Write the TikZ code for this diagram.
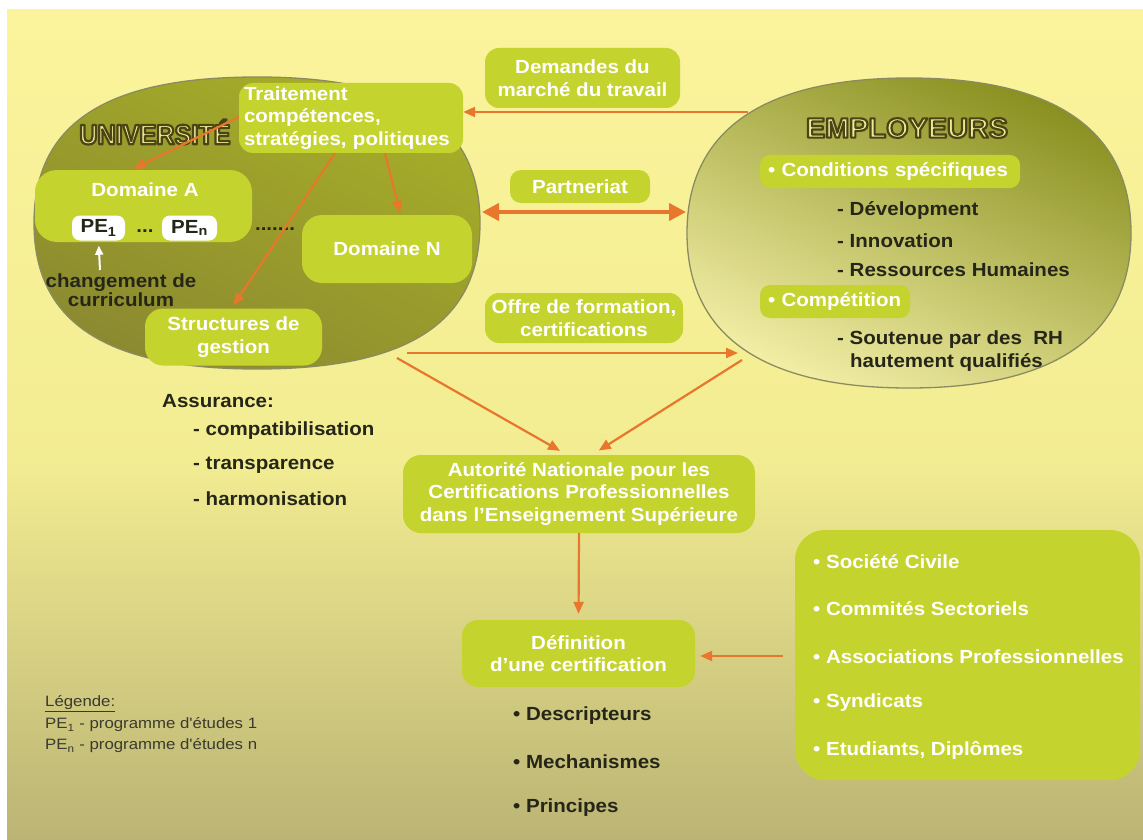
\documentclass[tikz,border=0pt]{standalone}
\usepackage{fontspec}
\setmainfont{Liberation Sans}[FakeStretch=1.08]
\newfontfamily\titlefont{Liberation Sans}[FakeStretch=1.03]
\newfontfamily\unifont{Liberation Sans}[FakeStretch=0.9]
\newfontfamily\legfont{Liberation Sans}[FakeStretch=1.12]
\usetikzlibrary{arrows.meta,calc}

\definecolor{bgtop}{HTML}{FBF49C}
\definecolor{bgmid}{HTML}{F2EC92}
\definecolor{bgbot}{HTML}{BBB474}
\definecolor{boxgreen}{HTML}{C5D32E}
\definecolor{arrorange}{HTML}{E8762C}
\definecolor{darktxt}{HTML}{262618}
\definecolor{legtxt}{HTML}{3A3A2E}
\definecolor{blobedge}{HTML}{8A8C60}
\definecolor{titlefill}{HTML}{F0EA98}
\definecolor{unitop}{HTML}{A6AE28}
\definecolor{unimid}{HTML}{BEBE3C}
\definecolor{unibot}{HTML}{8C8A30}
\definecolor{emptop}{HTML}{8A9020}
\definecolor{empmid}{HTML}{B6B63A}
\definecolor{empbot}{HTML}{F2EEA6}

\newcommand\dgbody{\fontsize{19}{22.5}\selectfont\bfseries}
\newcommand\dglegend{\legfont\fontsize{15}{20}\selectfont}
\newcommand\dgtitle{\titlefont\fontsize{28}{30}\selectfont\bfseries}
\newcommand\dguni{\unifont\fontsize{28}{30}\selectfont\bfseries}
% outlined headings: pale fill, dark stroke around each letter
\newcommand\dgoutline[1]{\special{pdf:code 0.294 0.271 0.082 RG 2.2 w 1 j 2 Tr}#1\special{pdf:code 0 Tr}}

\begin{document}
\begin{tikzpicture}[x=1pt,y=-1pt,
  gbox/.style={fill=boxgreen, rounded corners=14pt, inner sep=0pt, text=white, font=\dgbody, align=center},
  petag/.style={fill=white, rounded corners=8pt, inner sep=0pt, minimum height=25pt, text=darktxt, font=\dgbody},
  dtext/.style={text=darktxt, font=\dgbody, inner sep=0pt, anchor=west},
  wtext/.style={text=white, font=\dgbody, inner sep=0pt, anchor=west},
  legtext/.style={text=legtxt, font=\dglegend, inner sep=0pt, anchor=west},
  heading/.style={text=titlefill, inner sep=0pt},
  arr/.style={draw=arrorange, line width=2.2pt, -{Triangle[length=12pt,width=10pt]}},
  bigarr/.style={draw=arrorange, line width=4pt, {Triangle[length=17pt,width=17pt]}-{Triangle[length=17pt,width=17pt]}},
  whitearr/.style={draw=white, line width=2pt, -{Triangle[length=9pt,width=8pt]}},
  blob/.style={draw=blobedge, line width=1.3pt},
]
\useasboundingbox (0,0) rectangle (1143,840);
\fill[white] (0,0) rectangle (1143,840);
\shade[top color=bgtop, bottom color=bgmid] (7,10) rectangle (1143,461);
\shade[top color=bgmid, bottom color=bgbot] (7,460) rectangle (1143,840);

% the two actors
\shade[blob, top color=unitop, middle color=unimid, bottom color=unibot, shading angle=-25]
  (480,223) .. controls (480,322.3) and (408.6,369) .. (257,369)
  .. controls (105.4,369) and (34,322.3) .. (34,223)
  .. controls (34,123.7) and (105.4,77) .. (257,77)
  .. controls (408.6,77) and (480,123.7) .. (480,223) -- cycle;
\shade[blob, top color=emptop, middle color=empmid, bottom color=empbot, shading angle=-25]
  (1131,233) .. controls (1131,335.3) and (1055.5,388) .. (909,388)
  .. controls (762.5,388) and (687,335.3) .. (687,233)
  .. controls (687,130.7) and (762.5,78) .. (909,78)
  .. controls (1055.5,78) and (1131,130.7) .. (1131,233) -- cycle;

% boundary points used by the connectors
\coordinate (empA) at (748,112);
\coordinate (uniE) at (482,212);
\coordinate (empW) at (686,212);
\coordinate (uniS) at (407,353);
\coordinate (empS) at (738,353);
\coordinate (uniB) at (397,358);
\coordinate (empB) at (742,360);
\coordinate (rboxOut) at (783,656);
\coordinate (curtop) at (100,270);

% university side
\node[heading, font=\dguni] (unititle) at (155,132) {\dgoutline{UNIVERSITÉ}};
\node[gbox, minimum width=224pt, minimum height=70pt, text width=214pt, align=left] (trait) at (351,118)
  {Traitement\\compétences,\\stratégies, politiques};
\node[gbox, minimum width=217pt, minimum height=72pt, rounded corners=22pt] (domA) at (143.5,206) {};
\node[text=white, font=\dgbody, inner sep=0pt] (domAlabel) at (145,190) {Domaine A};
\node[petag, minimum width=53pt] (pe1) at (98.5,228) {PE\textsubscript{1}};
\node[petag, minimum width=55pt] (pen) at (189.5,228) {PE\textsubscript{n}};
\node[text=darktxt, font=\dgbody, inner sep=0pt] (dotsA) at (145,231) {...};
\node[text=darktxt, font=\dgbody, inner sep=0pt] (dotsB) at (275,229) {.......};
\node[gbox, minimum width=170pt, minimum height=68pt, rounded corners=20pt] (domN) at (387,249) {Domaine N};
\node[gbox, minimum width=177pt, minimum height=57pt, rounded corners=18pt] (struct) at (233.5,337) {Structures de\\gestion};
\node[text=darktxt, font={\fontsize{19}{19}\selectfont\bfseries}, align=center, inner sep=0pt] (curric) at (121,290)
  {changement de\\curriculum};

% employers side
\node[heading, font=\dgtitle] (emptitle) at (907,128) {\dgoutline{EMPLOYEURS}};
\node[gbox, minimum width=260pt, minimum height=33pt, text width=244pt, align=left, rounded corners=10pt] (cond) at (890,171.5)
  {\textbullet\ Conditions spécifiques};
\node[dtext] (dev) at (837,211) {- Dévelopment};
\node[dtext] (innov) at (837,241) {- Innovation};
\node[dtext] (rh) at (837,270) {- Ressources Humaines};
\node[gbox, minimum width=150pt, minimum height=33pt, text width=134pt, align=left, rounded corners=10pt] (comp) at (835,301.5)
  {\textbullet\ Compétition};
\node[dtext] (sout) at (837,340) {- Soutenue par des\ \ RH};
\node[dtext] (haut) at (850,363) {hautement qualifiés};

% exchanges between the two
\node[gbox, minimum width=195pt, minimum height=60pt] (dem) at (582.5,78) {Demandes du\\marché du travail};
\node[gbox, minimum width=140pt, minimum height=33pt, rounded corners=11pt] (part) at (580,186.5) {Partneriat};
\node[gbox, minimum width=198pt, minimum height=50pt] (offre) at (584,318) {Offre de formation,\\certifications};

% assurance list
\node[dtext] (assur) at (162,401) {Assurance:};
\node[dtext] (assur1) at (193,431) {- compatibilisation};
\node[dtext] (assur2) at (193,465) {- transparence};
\node[dtext] (assur3) at (193,499) {- harmonisation};

% national authority and certification
\node[gbox, minimum width=352pt, minimum height=78pt, rounded corners=18pt] (aut) at (579,494)
  {Autorité Nationale pour les\\Certifications Professionnelles\\dans l’Enseignement Supérieure};
\node[gbox, minimum width=233pt, minimum height=67pt, rounded corners=16pt] (def) at (578.5,653.5)
  {Définition\\d'une certification};
\node[dtext] (desc) at (513,716) {\textbullet\ Descripteurs};
\node[dtext] (mech) at (513,762) {\textbullet\ Mechanismes};
\node[dtext] (princ) at (513,808) {\textbullet\ Principes};

% stakeholders
\node[gbox, minimum width=345pt, minimum height=250pt, rounded corners=30pt] (rbox) at (967.5,655) {};
\node[wtext] (civ) at (813,562) {\textbullet\ Société Civile};
\node[wtext] (sect) at (813,609) {\textbullet\ Commités Sectoriels};
\node[wtext] (assoc) at (813,657) {\textbullet\ Associations Professionnelles};
\node[wtext] (synd) at (813,703) {\textbullet\ Syndicats};
\node[wtext] (etud) at (813,750) {\textbullet\ Etudiants, Diplômes};

% legend
\node[legtext] (leg) at (45,704) {\underline{Légende:}};
\node[legtext] (leg1) at (45,725) {PE\textsubscript{1} - programme d'études 1};
\node[legtext] (legn) at (45,746) {PE\textsubscript{n} - programme d'études n};

% connectors
\draw[arr] (empA) -- (trait.east |- empA);
\draw[arr] ($(trait.west)+(0,-1)$) -- ($(domA.north)+(-10,-1)$);
\draw[arr] ($(trait.south)+(-16,0)$) -- ($(struct.north)+(0,-3)$);
\draw[arr] ($(trait.south)+(34,0)$) -- ($(domN.north)+(13,-2)$);
\draw[whitearr, shorten >=5pt] (curtop) -- (pe1.south);
\draw[bigarr] (uniE) -- (empW);
\draw[arr] (uniS) -- (empS);
\draw[arr, shorten >=8pt] (uniB) -- ($(aut.north)+(-12,0)$);
\draw[arr, shorten >=8pt] (empB) -- ($(aut.north)+(13,0)$);
\draw[arr, shorten >=6pt] (aut.south) -- (def.north);
\draw[arr, shorten >=5pt] (rboxOut) -- (def.east |- rboxOut);
\end{tikzpicture}
\end{document}
